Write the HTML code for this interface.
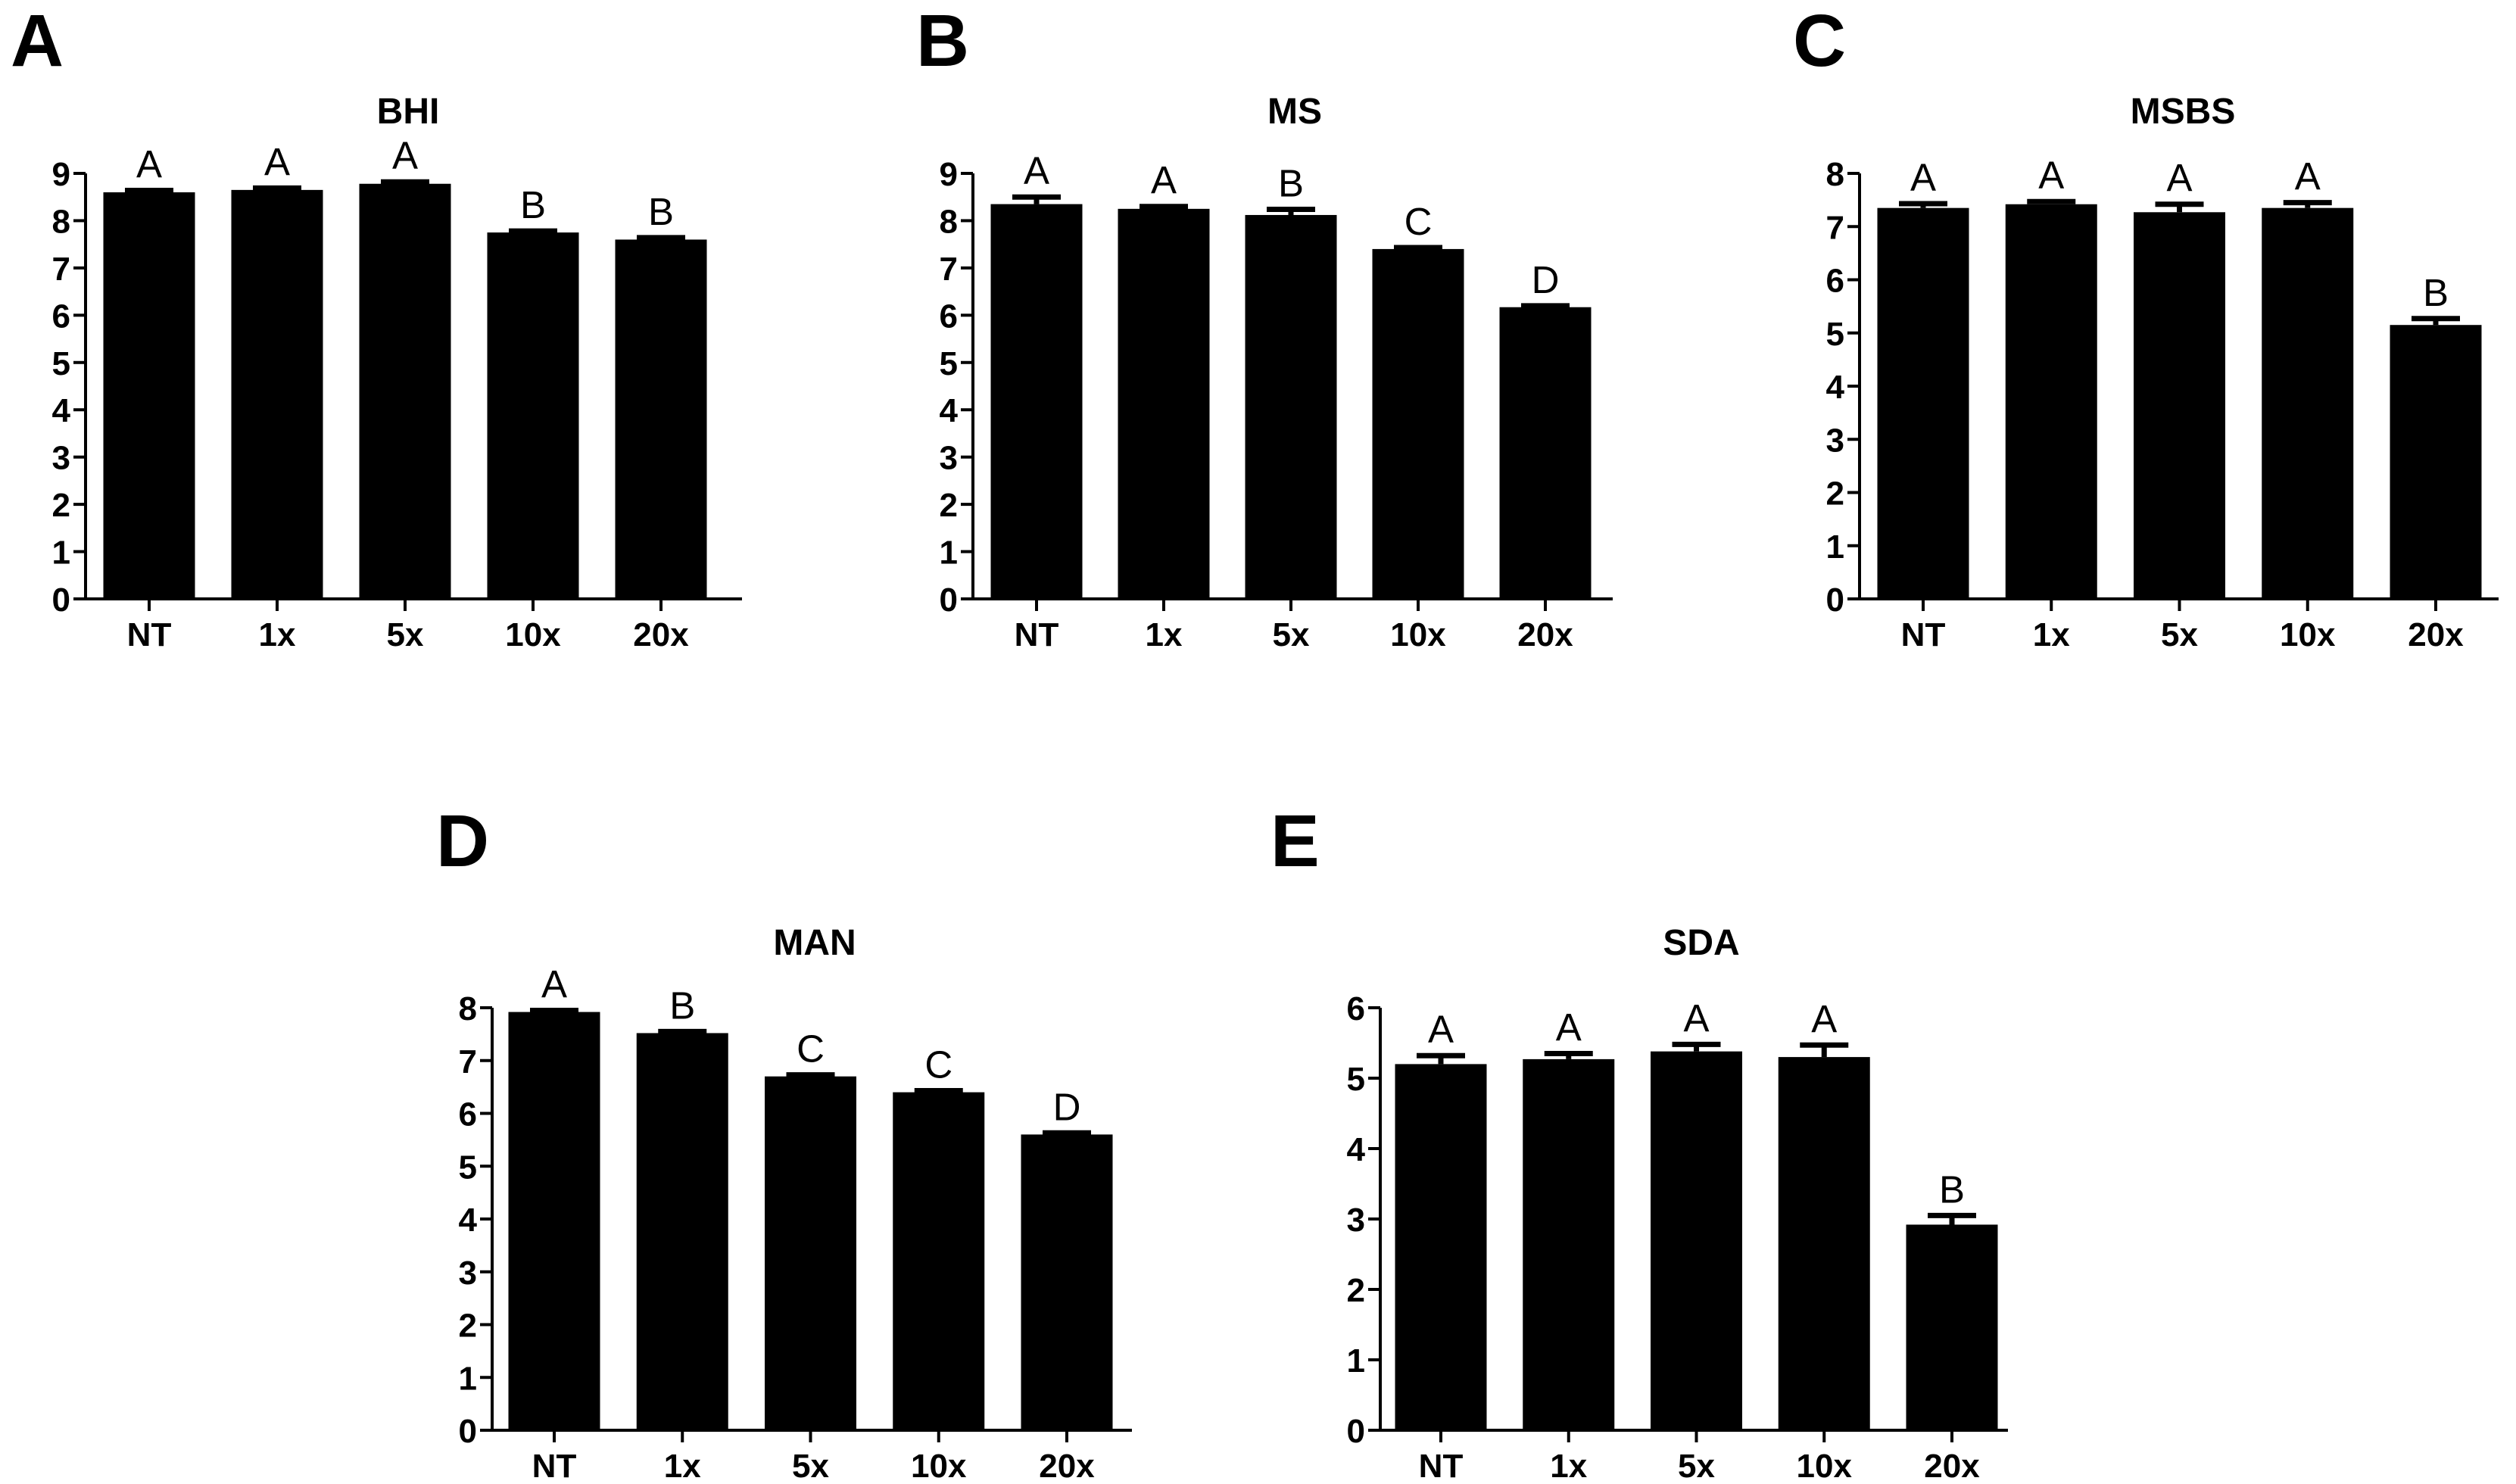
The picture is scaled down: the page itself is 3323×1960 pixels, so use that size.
<!DOCTYPE html>
<html><head><meta charset="utf-8"><style>
html,body{margin:0;padding:0;background:#fff;}
svg{display:block;font-family:"Liberation Sans",Arial,sans-serif;}
</style></head><body>
<svg id="fig" width="3323" height="1960" viewBox="0 0 3323 1960" xmlns="http://www.w3.org/2000/svg"></svg>
<script>
const categories = ["NT","1x","5x","10x","20x"];
const bhiValues = [8.6,8.65,8.78,7.75,7.6];
const bhiErr = [0.04,0.04,0.04,0.03,0.04];
const bhiLetters = ["A","A","A","B","B"];
const msValues = [8.35,8.25,8.12,7.4,6.17];
const msErr = [0.15,0.05,0.12,0.03,0.03];
const msLetters = ["A","A","B","C","D"];
const msbsValues = [7.35,7.42,7.27,7.35,5.15];
const msbsErr = [0.08,0.05,0.15,0.1,0.12];
const msbsLetters = ["A","A","A","A","B"];
const manValues = [7.92,7.52,6.7,6.4,5.6];
const manErr = [0.03,0.03,0.03,0.03,0.03];
const manLetters = ["A","B","C","C","D"];
const sdaValues = [5.2,5.27,5.38,5.3,2.92];
const sdaErr = [0.12,0.08,0.1,0.17,0.13];
const sdaLetters = ["A","A","A","A","B"];
const yMaxes = [9,9,8,8,6];

const NS="http://www.w3.org/2000/svg";
const svg=document.getElementById('fig');
function mk(tag,attrs,parent){const e=document.createElementNS(NS,tag);for(const k in attrs)e.setAttribute(k,attrs[k]);(parent||svg).appendChild(e);return e;}

const panels=[
 {id:'a',label:'A',lx:14,title:'BHI',tx:539,ax:113,top:229,zero:791,xend:980,t0:197,t4:873,vals:bhiValues,err:bhiErr,let:bhiLetters,ymax:yMaxes[0],ly:87,ty:163},
 {id:'b',label:'B',lx:1210,title:'MS',tx:1710,ax:1285,top:229,zero:791,xend:2130,t0:1369,t4:2041,vals:msValues,err:msErr,let:msLetters,ymax:yMaxes[1],ly:87,ty:163},
 {id:'c',label:'C',lx:2368,title:'MSBS',tx:2883,ax:2456,top:229,zero:791,xend:3300,t0:2540,t4:3217,vals:msbsValues,err:msbsErr,let:msbsLetters,ymax:yMaxes[2],ly:87,ty:163},
 {id:'d',label:'D',lx:576,title:'MAN',tx:1076,ax:650,top:1331,zero:1889,xend:1495,t0:732,t4:1409,vals:manValues,err:manErr,let:manLetters,ymax:yMaxes[3],ly:1144,ty:1261},
 {id:'e',label:'E',lx:1678,title:'SDA',tx:2247,ax:1823,top:1331,zero:1889,xend:2652,t0:1903,t4:2578,vals:sdaValues,err:sdaErr,let:sdaLetters,ymax:yMaxes[4],ly:1144,ty:1261}
];

panels.forEach(p=>{
  const g=mk('g',{});
  
  
  const yS=v=>p.zero-(v/p.ymax)*(p.zero-p.top);
  const xS=i=>p.t0+i*(p.t4-p.t0)/(categories.length-1);
  const pl=mk('text',{x:p.lx,y:p.ly,'font-size':97,'font-weight':'bold'},g);
  pl.textContent=p.label;
  
  
  const tt=mk('text',{x:p.tx,y:p.ty,'font-size':48,'font-weight':'bold','text-anchor':'middle'},g);
  tt.textContent=p.title;
  
  
  p.vals.forEach((v,i)=>{
    const cx=xS(i), w=121;
    const r=mk('rect',{x:cx-w/2,y:yS(v),width:w,height:p.zero-yS(v),fill:'#000'},g);
    
    
    const et=yS(v+p.err[i]);
    const el=mk('path',{d:`M${cx},${yS(v)} V${et} M${cx-32},${et} H${cx+32}`,stroke:'#000','stroke-width':7,fill:'none'},g);
    
    
    const lt=mk('text',{x:cx,y:et-17,'font-size':51,'text-anchor':'middle'},g);
    lt.textContent=p.let[i];
    
    
    const xt=mk('line',{x1:cx,y1:p.zero,x2:cx,y2:p.zero+16,stroke:'#000','stroke-width':4},g);
    
    
    const xl=mk('text',{x:cx,y:p.zero+62,'font-size':44,'font-weight':'bold','text-anchor':'middle'},g);
    xl.textContent=categories[i];
    
    
  });
  for(let t=0;t<=p.ymax;t++){
    const y=yS(t);
    const tk=mk('line',{x1:p.ax-16,y1:y,x2:p.ax,y2:y,stroke:'#000','stroke-width':4},g);
    
    
    const tl=mk('text',{x:p.ax-20,y:y+16,'font-size':44,'font-weight':'bold','text-anchor':'end'},g);
    tl.textContent=String(t);
    
    
  }
  const ya=mk('line',{x1:p.ax,y1:p.top,x2:p.ax,y2:p.zero+2,stroke:'#000','stroke-width':4},g);
  
  
  const xa=mk('line',{x1:p.ax-2,y1:p.zero,x2:p.xend,y2:p.zero,stroke:'#000','stroke-width':4},g);
  
  
});
</script>
</body></html>
